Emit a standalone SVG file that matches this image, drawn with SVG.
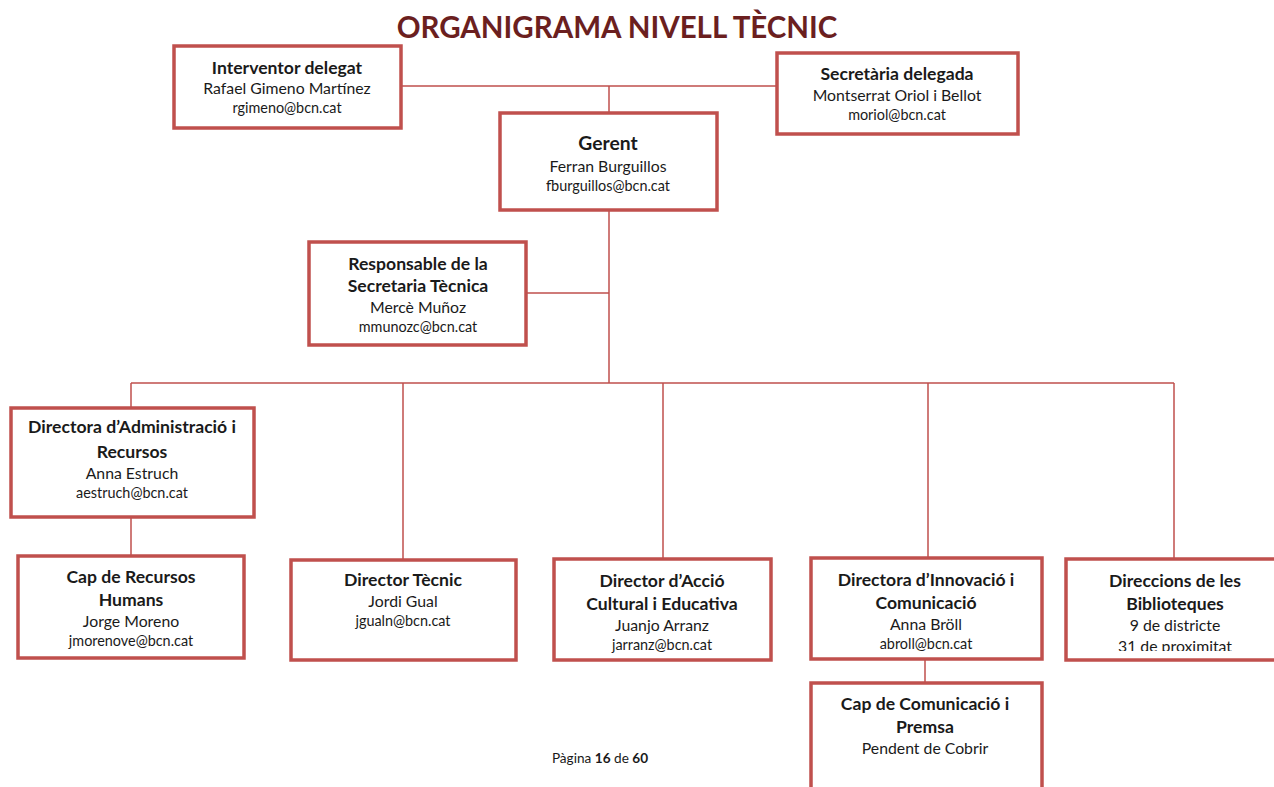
<svg xmlns="http://www.w3.org/2000/svg" width="1274" height="787" viewBox="0 0 1274 787">
<style>
.box{fill:#fff;stroke:#c0504d;stroke-width:3.5}
.ln{stroke:#c0504d;stroke-width:1.5;fill:none}
text{font-family:Lato,"Open Sans",sans-serif;fill:#1a1a1a;text-anchor:middle}
.b{font-weight:bold;font-size:17.6px}
.r{font-size:15.8px}
.e{font-size:14.4px}
.title{font-weight:bold;font-size:29.5px;fill:#6b1f1f}
.ft{font-size:13.6px}
</style>
<defs><clipPath id="cb"><rect x="1066" y="559" width="208" height="92"/></clipPath></defs>
<rect width="1274" height="787" fill="#fff"/>
<text class="title" x="617" y="38">ORGANIGRAMA NIVELL TÈCNIC</text>
<g id="connectors">
<path class="ln" d="M401 86H776M609 86V112M609 211V383M527 293H609M131 383H1174M131 383V407M403 383V559M663 383V558M928 383V557M1174 383V558M131 518V555M925 660V682"/>
</g>
<g id="interventor">
<rect class="box" x="174" y="46" width="227" height="82"/>
<text class="b" x="287" y="74">Interventor delegat</text>
<text class="r" x="287" y="94">Rafael Gimeno Martínez</text>
<text class="e" x="287" y="113">rgimeno@bcn.cat</text>
</g>
<g id="secretaria">
<rect class="box" x="777" y="53" width="241" height="81"/>
<text class="b" x="897" y="80">Secretària delegada</text>
<text class="r" x="897" y="101">Montserrat Oriol i Bellot</text>
<text class="e" x="897" y="120">moriol@bcn.cat</text>
</g>
<g id="gerent">
<rect class="box" x="500" y="113" width="217" height="97"/>
<text class="b" x="608" y="150" style="font-size:19.3px">Gerent</text>
<text class="r" x="608" y="172">Ferran Burguillos</text>
<text class="e" x="608" y="191">fburguillos@bcn.cat</text>
</g>
<g id="responsable">
<rect class="box" x="309" y="242" width="217" height="103"/>
<text class="b" x="418" y="270">Responsable de la</text>
<text class="b" x="418" y="292">Secretaria Tècnica</text>
<text class="r" x="418" y="313">Mercè Muñoz</text>
<text class="e" x="418" y="332">mmunozc@bcn.cat</text>
</g>
<g id="dir-admin">
<rect class="box" x="11" y="408" width="243" height="109"/>
<text class="b" x="132" y="433">Directora d’Administració i</text>
<text class="b" x="132" y="458">Recursos</text>
<text class="r" x="132" y="479">Anna Estruch</text>
<text class="e" x="132" y="498">aestruch@bcn.cat</text>
</g>
<g id="cap-rh">
<rect class="box" x="18" y="556" width="226" height="102"/>
<text class="b" x="131" y="583">Cap de Recursos</text>
<text class="b" x="131" y="606">Humans</text>
<text class="r" x="131" y="627">Jorge Moreno</text>
<text class="e" x="131" y="646">jmorenove@bcn.cat</text>
</g>
<g id="dir-tecnic">
<rect class="box" x="291" y="560" width="225" height="100"/>
<text class="b" x="403" y="586">Director Tècnic</text>
<text class="r" x="403" y="607">Jordi Gual</text>
<text class="e" x="403" y="626">jgualn@bcn.cat</text>
</g>
<g id="dir-accio">
<rect class="box" x="554" y="559" width="217" height="101"/>
<text class="b" x="662" y="587">Director d’Acció</text>
<text class="b" x="662" y="610">Cultural i Educativa</text>
<text class="r" x="662" y="631">Juanjo Arranz</text>
<text class="e" x="662" y="650">jarranz@bcn.cat</text>
</g>
<g id="dir-innovacio">
<rect class="box" x="811" y="558" width="231" height="101"/>
<text class="b" x="926" y="586">Directora d’Innovació i</text>
<text class="b" x="926" y="609">Comunicació</text>
<text class="r" x="926" y="630">Anna Bröll</text>
<text class="e" x="926" y="649">abroll@bcn.cat</text>
</g>
<g id="biblioteques">
<rect class="box" x="1066" y="559" width="212" height="101"/>
<g clip-path="url(#cb)">
<text class="b" x="1175" y="587">Direccions de les</text>
<text class="b" x="1175" y="610">Biblioteques</text>
<text class="r" x="1175" y="631">9 de districte</text>
<text class="r" x="1175" y="652">31 de proximitat</text>
</g>
</g>
<g id="cap-comunicacio">
<rect class="box" x="811" y="683" width="231" height="110"/>
<text class="b" x="925" y="710">Cap de Comunicació i</text>
<text class="b" x="925" y="733">Premsa</text>
<text class="r" x="925" y="754">Pendent de Cobrir</text>
</g>
<text class="ft" x="600" y="763">Pàgina <tspan font-weight="bold">16</tspan> de <tspan font-weight="bold">60</tspan></text>
</svg>
